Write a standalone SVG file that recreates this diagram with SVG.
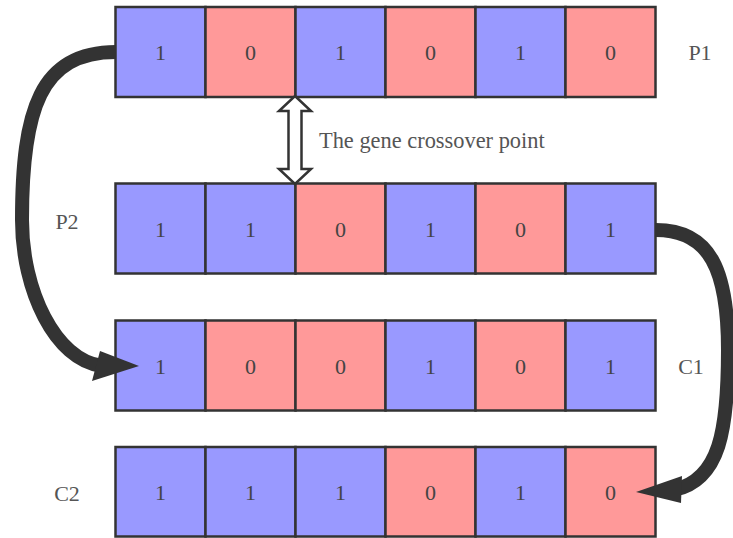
<svg xmlns="http://www.w3.org/2000/svg" width="733" height="538" viewBox="0 0 733 538">
  <style>
    .b { fill: #9999ff; stroke: #333; stroke-width: 2.5; }
    .r { fill: #ff9999; stroke: #333; stroke-width: 2.5; }
    .t { font-family: "Liberation Serif", "Times New Roman", serif; font-size: 22px; fill: #444; text-anchor: middle; }
    .lbl { font-family: "Liberation Serif", "Times New Roman", serif; font-size: 22px; fill: #555; text-anchor: middle; }
    .cap { font-family: "Liberation Serif", "Times New Roman", serif; font-size: 22.4px; fill: #555; }
    .flow { fill: none; stroke: #333; stroke-width: 14; }
    .head { fill: #333; }
  </style>

  <!-- P1 chromosome -->
  <g id="p1">
    <rect class="b" x="115.5" y="7" width="90" height="90"/>
    <rect class="r" x="205.5" y="7" width="90" height="90"/>
    <rect class="b" x="295.5" y="7" width="90" height="90"/>
    <rect class="r" x="385.5" y="7" width="90" height="90"/>
    <rect class="b" x="475.5" y="7" width="90" height="90"/>
    <rect class="r" x="565.5" y="7" width="90" height="90"/>
    <text class="t" x="160.5" y="60">1</text>
    <text class="t" x="250.5" y="60">0</text>
    <text class="t" x="340.5" y="60">1</text>
    <text class="t" x="430.5" y="60">0</text>
    <text class="t" x="520.5" y="60">1</text>
    <text class="t" x="610.5" y="60">0</text>
    <text class="lbl" x="700" y="60">P1</text>
  </g>

  <!-- P2 chromosome -->
  <g id="p2">
    <rect class="b" x="115.5" y="183.5" width="90" height="90"/>
    <rect class="b" x="205.5" y="183.5" width="90" height="90"/>
    <rect class="r" x="295.5" y="183.5" width="90" height="90"/>
    <rect class="b" x="385.5" y="183.5" width="90" height="90"/>
    <rect class="r" x="475.5" y="183.5" width="90" height="90"/>
    <rect class="b" x="565.5" y="183.5" width="90" height="90"/>
    <text class="t" x="160.5" y="237">1</text>
    <text class="t" x="250.5" y="237">1</text>
    <text class="t" x="340.5" y="237">0</text>
    <text class="t" x="430.5" y="237">1</text>
    <text class="t" x="520.5" y="237">0</text>
    <text class="t" x="610.5" y="237">1</text>
    <text class="lbl" x="67" y="229">P2</text>
  </g>

  <!-- C1 offspring -->
  <g id="c1">
    <rect class="b" x="115.5" y="320.5" width="90" height="90"/>
    <rect class="r" x="205.5" y="320.5" width="90" height="90"/>
    <rect class="r" x="295.5" y="320.5" width="90" height="90"/>
    <rect class="b" x="385.5" y="320.5" width="90" height="90"/>
    <rect class="r" x="475.5" y="320.5" width="90" height="90"/>
    <rect class="b" x="565.5" y="320.5" width="90" height="90"/>
    <text class="t" x="160.5" y="374">1</text>
    <text class="t" x="250.5" y="374">0</text>
    <text class="t" x="340.5" y="374">0</text>
    <text class="t" x="430.5" y="374">1</text>
    <text class="t" x="520.5" y="374">0</text>
    <text class="t" x="610.5" y="374">1</text>
    <text class="lbl" x="691" y="374">C1</text>
  </g>

  <!-- C2 offspring -->
  <g id="c2">
    <rect class="b" x="115.5" y="447" width="90" height="89.5"/>
    <rect class="b" x="205.5" y="447" width="90" height="89.5"/>
    <rect class="b" x="295.5" y="447" width="90" height="89.5"/>
    <rect class="r" x="385.5" y="447" width="90" height="89.5"/>
    <rect class="b" x="475.5" y="447" width="90" height="89.5"/>
    <rect class="r" x="565.5" y="447" width="90" height="89.5"/>
    <text class="t" x="160.5" y="500">1</text>
    <text class="t" x="250.5" y="500">1</text>
    <text class="t" x="340.5" y="500">1</text>
    <text class="t" x="430.5" y="500">0</text>
    <text class="t" x="520.5" y="500">1</text>
    <text class="t" x="610.5" y="500">0</text>
    <text class="lbl" x="67" y="501">C2</text>
  </g>

  <!-- crossover point marker -->
  <g id="crossover">
    <polygon points="295,96 311,111 301.5,111 301.5,169 311,169 295,184 279,169 288.5,169 288.5,111 279,111" fill="#fff" stroke="#333" stroke-width="2.5" stroke-linejoin="miter"/>
    <text class="cap" x="319" y="148">The gene crossover point</text>
  </g>

  <!-- connectors -->
  <g id="connectors">
    <path class="flow" d="M116,52 C40,52 22,110 22,220 C22,290 55,360 102,366"/>
    <polygon class="head" points="139,366 100,351 92,381"/>
    <path class="flow" d="M656,230 C710,230 728,270 728,350 C728,430 720,480 674,490"/>
    <polygon class="head" points="636,492 682,476 681,503"/>
  </g>
</svg>
